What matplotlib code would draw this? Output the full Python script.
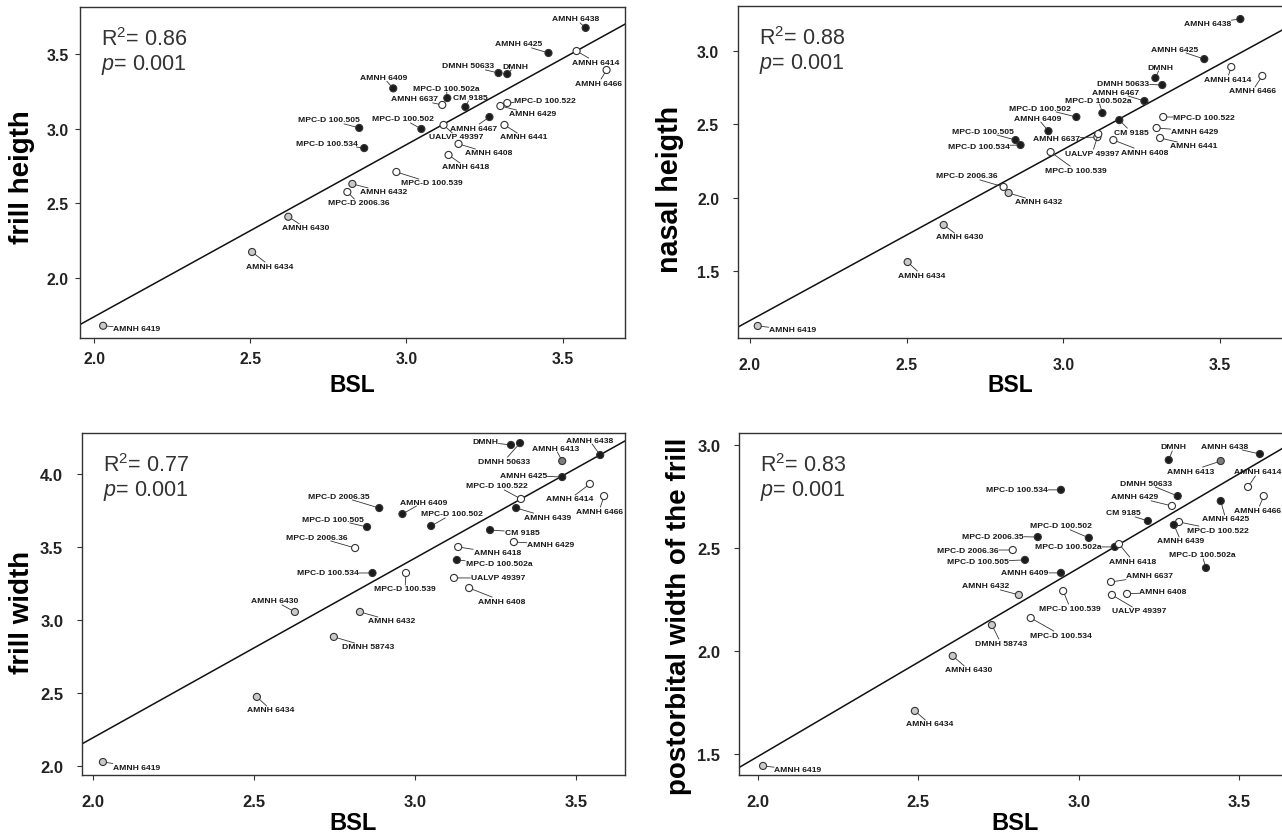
import matplotlib
matplotlib.use("Agg")
import matplotlib.pyplot as plt

plt.rcParams["font.family"] = ["Liberation Sans", "DejaVu Sans"]
plt.rcParams["mathtext.fontset"] = "custom"
plt.rcParams["mathtext.rm"] = "Liberation Sans"
plt.rcParams["mathtext.it"] = "Liberation Sans:italic"

# ---- data: log BSL vs. log measurement, one list set per panel ----
# fill code: k = black, w = white, g = light grey, m = mid grey

# frill height
names_fh = ["AMNH 6419", "AMNH 6434", "AMNH 6430", "MPC-D 2006.36", "AMNH 6432",
            "MPC-D 100.539", "AMNH 6418", "AMNH 6408", "UALVP 49397", "MPC-D 100.502",
            "MPC-D 100.505", "MPC-D 100.534", "AMNH 6409", "AMNH 6637", "MPC-D 100.502a",
            "CM 9185", "AMNH 6467", "AMNH 6429", "MPC-D 100.522", "AMNH 6441",
            "DMNH 50633", "DMNH", "AMNH 6425", "AMNH 6438", "AMNH 6414", "AMNH 6466"]
bsl_fh = [2.029, 2.506, 2.622, 2.811, 2.827, 2.968, 3.135, 3.167, 3.119, 3.048,
          2.849, 2.865, 2.958, 3.115, 3.131, 3.189, 3.266, 3.301, 3.323, 3.314,
          3.295, 3.323, 3.455, 3.574, 3.545, 3.641]
val_fh = [1.680, 2.174, 2.410, 2.576, 2.630, 2.710, 2.824, 2.898, 3.025, 2.998,
          3.005, 2.870, 3.270, 3.159, 3.205, 3.145, 3.078, 3.152, 3.172, 3.025,
          3.373, 3.366, 3.507, 3.675, 3.520, 3.393]
fill_fh = list("gggwgwwwwkkkkwkkkwwwkkkkww")

# nasal height
names_nh = ["AMNH 6419", "AMNH 6434", "AMNH 6430", "MPC-D 2006.36", "AMNH 6432",
            "MPC-D 100.539", "MPC-D 100.505", "MPC-D 100.534", "AMNH 6409", "AMNH 6637",
            "UALVP 49397", "MPC-D 100.502", "MPC-D 100.502a", "CM 9185", "AMNH 6408",
            "AMNH 6467", "DMNH 50633", "DMNH", "AMNH 6425", "AMNH 6438",
            "AMNH 6414", "AMNH 6466", "MPC-D 100.522", "AMNH 6429", "AMNH 6441"]
bsl_nh = [2.025, 2.503, 2.618, 2.809, 2.825, 2.959, 2.847, 2.863, 2.952, 3.108,
          3.111, 3.041, 3.124, 3.178, 3.159, 3.258, 3.315, 3.293, 3.449, 3.564,
          3.535, 3.634, 3.318, 3.297, 3.308]
val_nh = [1.125, 1.561, 1.814, 2.073, 2.032, 2.311, 2.393, 2.359, 2.454, 2.413,
          2.434, 2.550, 2.577, 2.529, 2.393, 2.659, 2.768, 2.816, 2.945, 3.218,
          2.891, 2.830, 2.550, 2.475, 2.407]
fill_nh = list("gggwgwkkkwwkkkwkkkkkwwwww")

# frill width
names_fw = ["AMNH 6419", "AMNH 6434", "AMNH 6430", "DMNH 58743", "AMNH 6432",
            "MPC-D 100.534", "MPC-D 100.539", "MPC-D 2006.36", "MPC-D 100.505", "MPC-D 2006.35",
            "AMNH 6409", "MPC-D 100.502", "AMNH 6418", "MPC-D 100.502a", "UALVP 49397",
            "AMNH 6408", "CM 9185", "AMNH 6429", "AMNH 6439", "MPC-D 100.522",
            "AMNH 6425", "AMNH 6413", "DMNH", "DMNH 50633", "AMNH 6438",
            "AMNH 6414", "AMNH 6466"]
bsl_fw = [2.031, 2.509, 2.627, 2.748, 2.829, 2.868, 2.972, 2.814, 2.851, 2.889,
          2.961, 3.050, 3.134, 3.130, 3.121, 3.168, 3.233, 3.307, 3.314, 3.329,
          3.457, 3.457, 3.298, 3.326, 3.575, 3.543, 3.587]
val_fw = [2.027, 2.473, 3.055, 2.884, 3.055, 3.322, 3.322, 3.493, 3.637, 3.767,
          3.726, 3.644, 3.500, 3.411, 3.288, 3.219, 3.616, 3.534, 3.767, 3.829,
          3.979, 4.089, 4.199, 4.212, 4.130, 3.932, 3.849]
fill_fw = list("gggggkwwkkkkwkwwkwkwkmkkkww")

# postorbital width of the frill
names_pw = ["AMNH 6419", "AMNH 6434", "AMNH 6430", "DMNH 58743", "MPC-D 100.534",
            "AMNH 6432", "MPC-D 100.539", "AMNH 6409", "MPC-D 100.505", "MPC-D 2006.36",
            "MPC-D 2006.35", "MPC-D 100.502", "MPC-D 100.502a", "AMNH 6418", "AMNH 6637",
            "UALVP 49397", "AMNH 6408", "MPC-D 100.534", "CM 9185", "AMNH 6429",
            "DMNH 50633", "DMNH", "AMNH 6413", "AMNH 6438", "AMNH 6414",
            "AMNH 6466", "AMNH 6425", "MPC-D 100.522", "AMNH 6439", "MPC-D 100.502a"]
bsl_pw = [2.016, 2.489, 2.607, 2.729, 2.850, 2.813, 2.951, 2.944, 2.832, 2.794,
          2.872, 3.031, 3.112, 3.125, 3.100, 3.103, 3.150, 2.944, 3.215, 3.290,
          3.308, 3.280, 3.442, 3.564, 3.527, 3.576, 3.442, 3.312, 3.296, 3.396]
val_pw = [1.442, 1.709, 1.976, 2.126, 2.160, 2.272, 2.291, 2.379, 2.442, 2.490,
          2.553, 2.549, 2.505, 2.519, 2.335, 2.272, 2.277, 2.782, 2.631, 2.704,
          2.752, 2.927, 2.922, 2.956, 2.796, 2.752, 2.728, 2.626, 2.612, 2.403]
fill_pw = list("ggggwgwkkwkkkwwwwkkwkkmkwwkwkk")

# regression lines (intercept, slope) and stats
fit_intercepts = [-0.566, -1.172, -0.269, -0.342]
fit_slopes = [1.153, 1.167, 1.231, 0.915]
r2_values = ["0.86", "0.88", "0.77", "0.83"]
p_values = ["0.001", "0.001", "0.001", "0.001"]
y_labels = ["frill heigth", "nasal heigth", "frill width", "postorbital width of the frill"]
y_ticks = [[2.0, 2.5, 3.0, 3.5], [1.5, 2.0, 2.5, 3.0],
           [2.0, 2.5, 3.0, 3.5, 4.0], [1.5, 2.0, 2.5, 3.0]]
x_ticks = [2.0, 2.5, 3.0, 3.5]

# ---- layout (label offsets in pixels, axes boxes in pixels) ----
label_offsets = [
    [(34, -3), (18, -14), (17, -11), (11, -11), (31, -8), (35, -11), (17, -12), (30, -9),
     (13, -12), (-18, 10), (-30, 8), (-37, 5), (-10, 11), (-28, 6), (-1, 10), (5, 10),
     (-16, -11), (32, -8), (38, 3), (19, -12), (-30, 7), (8, 8), (-30, 9), (-10, 9),
     (19, -11), (-8, -13)],
    [(35, -4), (14, -13), (16, -12), (-37, 11), (30, -9), (25, -18), (-33, 9), (-42, -1),
     (-11, 13), (-41, -1), (-6, -19), (-36, 9), (-4, 13), (12, -12), (31, -12), (-29, 9),
     (-39, 2), (5, 11), (-30, 10), (-33, -4), (-4, -12), (-10, -15), (41, 0), (38, -3),
     (34, -8)],
    [(34, -5), (14, -13), (-20, 11), (34, -10), (32, -9), (-45, 0), (-1, -16), (-38, 11),
     (-34, 8), (-40, 12), (21, 12), (21, 12), (39, -6), (42, -4), (44, 0), (33, -13),
     (32, -2), (37, -2), (31, -9), (-24, 13), (-39, 2), (-7, 13), (-26, 3), (-16, -18),
     (-11, 15), (-20, -15), (-5, -15)],
    [(35, -4), (15, -13), (16, -14), (9, -18), (30, -17), (-33, 9), (7, -17), (-36, 0),
     (-47, -2), (-45, 0), (-45, 1), (-28, 12), (-47, 0), (14, -17), (39, 6), (27, -16),
     (36, 2), (-44, 0), (-25, 8), (-37, 9), (-32, 13), (5, 13), (-30, -10), (-35, 8),
     (10, 15), (-6, -14), (5, -18), (39, -8), (7, -16), (-4, 13)],
]

W, H = 1282, 837
boxes = [(80, 8, 625, 339), (738, 7, 1283, 339), (82, 434, 625, 776), (739, 434, 1292, 776)]
xlims = [(1.955, 3.70), (1.962, 3.70), (1.966, 3.652), (1.941, 3.664)]
ylims = [(1.598, 3.815), (1.043, 3.307), (1.938, 4.281), (1.398, 3.058)]
tick_pads = [(6, 4.5), (10, 10), (10, 10), (10, 10)]   # (x pad, y pad)
xlabel_drop = [47, 47, 48, 48]                          # px below the frame
ylabel_pos = [(-58, 0.49), (-68, 0.449), (-60, 0.477), (-60, 0.468)]
ylabel_size = [20, 20.6, 20, 20]

FILL = {"k": "#1c1c1c", "w": "#ffffff", "g": "#c9c9c9", "m": "#7d7d7d"}
panels = [
    (names_fh, bsl_fh, val_fh, fill_fh),
    (names_nh, bsl_nh, val_nh, fill_nh),
    (names_fw, bsl_fw, val_fw, fill_fw),
    (names_pw, bsl_pw, val_pw, fill_pw),
]

fig = plt.figure(figsize=(W / 100, H / 100), dpi=100)

for i, (names, xs, ys, fills) in enumerate(panels):
    l, t, r, b = boxes[i]
    ax = fig.add_axes([l / W, 1 - b / H, (r - l) / W, (b - t) / H])
    ax.set_xlim(*xlims[i])
    ax.set_ylim(*ylims[i])

    ax.axline((0, fit_intercepts[i]), slope=fit_slopes[i], color="#111111", lw=1.1, zorder=2)

    ax.scatter(xs, ys, s=26, c=[FILL[f] for f in fills], edgecolors="#333333",
               linewidths=0.8, zorder=3)

    for name, x, y, off in zip(names, xs, ys, label_offsets[i]):
        ax.annotate(name, xy=(x, y), xytext=off, textcoords="offset pixels",
                    ha="center", va="center", fontsize=6.1, fontweight="bold",
                    color="#1a1a1a", zorder=4, annotation_clip=False,
                    bbox=dict(boxstyle="square,pad=0.05", fc="none", ec="none"),
                    arrowprops=dict(arrowstyle="-", lw=0.6, color="#333333",
                                    shrinkA=0, shrinkB=2.6))

    ax.annotate(r"R$^{2}$= " + r2_values[i], xy=(0, 1), xycoords="axes fraction",
                xytext=(21, -32), textcoords="offset pixels", ha="left", va="center",
                fontsize=15.5, color="#333333")
    ax.annotate(r"$\mathit{p}$= " + p_values[i], xy=(0, 1), xycoords="axes fraction",
                xytext=(21, -57), textcoords="offset pixels", ha="left", va="center",
                fontsize=15.5, color="#333333")

    ax.set_xticks(x_ticks)
    ax.set_yticks(y_ticks[i])
    ax.set_xticklabels([f"{v:.1f}" for v in x_ticks])
    ax.set_yticklabels([f"{v:.1f}" for v in y_ticks[i]])
    fs = 11.4 if i < 2 else 11.9
    ax.tick_params(direction="out", length=3.6, width=0.8, color="#333333",
                   labelsize=fs, labelcolor="#222222")
    ax.tick_params(axis="x", pad=tick_pads[i][0])
    ax.tick_params(axis="y", pad=tick_pads[i][1])
    for lab in ax.get_xticklabels() + ax.get_yticklabels():
        lab.set_fontweight("bold")
    for sp in ax.spines.values():
        sp.set_color("#333333")
        sp.set_linewidth(1.0)

    ax.set_xlabel("BSL", fontsize=16.5 if i < 2 else 17, fontweight="bold", va="center")
    ax.xaxis.set_label_coords(0.5, -xlabel_drop[i] / (b - t))
    ax.set_ylabel(y_labels[i], fontsize=ylabel_size[i], fontweight="bold", va="center")
    ax.yaxis.set_label_coords(ylabel_pos[i][0] / (r - l), ylabel_pos[i][1])

fig.savefig("out.png", dpi=100)
